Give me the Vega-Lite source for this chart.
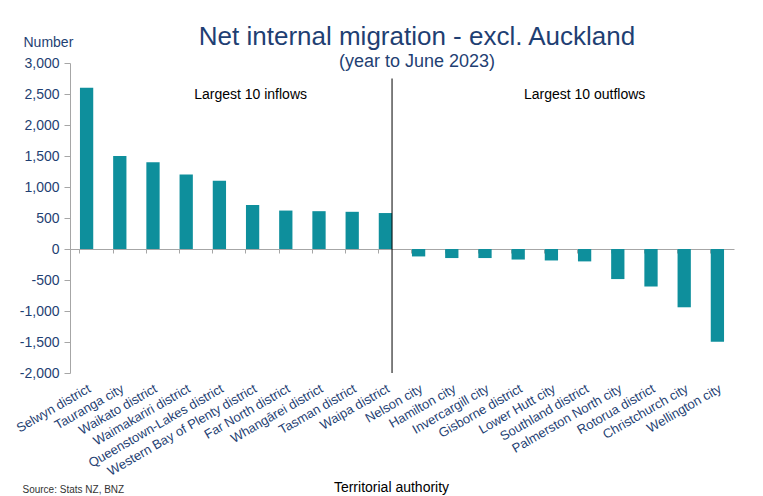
{
  "$schema": "https://vega.github.io/schema/vega-lite/v6.json",
  "width": 664,
  "height": 310,
  "autosize": "none",
  "padding": {"left": 70, "top": 63, "right": 29, "bottom": 123},
  "config": {
    "view": {"stroke": null},
    "font": "Liberation Sans",
    "axisY": {
      "tickCount": 10,
      "labelOverlap": false,
      "labelExpr": "replace(format(datum.value, ','), '\u2212', '-')",
      "labelFont": "Liberation Sans",
      "labelFontSize": 14,
      "labelColor": "#1F3F73",
      "labelPadding": 5,
      "tickSize": 6,
      "domainColor": "#A6A6A6",
      "tickColor": "#A6A6A6",
      "grid": false
    }
  },
  "title": {
    "text": "Net internal migration - excl. Auckland",
    "subtitle": "(year to June 2023)",
    "anchor": "middle",
    "dx": 15,
    "fontSize": 26,
    "fontWeight": "normal",
    "color": "#1F3F73",
    "font": "Liberation Sans",
    "subtitleFont": "Liberation Sans",
    "subtitleFontSize": 18,
    "subtitleColor": "#1F3F73",
    "subtitlePadding": 3,
    "offset": -36
  },
  "data": {
    "values": [
      {"authority": "Selwyn district", "net": 2600},
      {"authority": "Tauranga city", "net": 1500},
      {"authority": "Waikato district", "net": 1400},
      {"authority": "Waimakariri district", "net": 1200},
      {"authority": "Queenstown-Lakes district", "net": 1100},
      {"authority": "Western Bay of Plenty district", "net": 710},
      {"authority": "Far North district", "net": 620},
      {"authority": "Whangārei district", "net": 610},
      {"authority": "Tasman district", "net": 600},
      {"authority": "Waipa district", "net": 580},
      {"authority": "Nelson city", "net": -120},
      {"authority": "Hamilton city", "net": -146},
      {"authority": "Invercargill city", "net": -146},
      {"authority": "Gisborne district", "net": -170},
      {"authority": "Lower Hutt city", "net": -185},
      {"authority": "Southland district", "net": -200},
      {"authority": "Palmerston North city", "net": -485},
      {"authority": "Rotorua district", "net": -605},
      {"authority": "Christchurch city", "net": -940},
      {"authority": "Wellington city", "net": -1495}
    ]
  },
  "layer": [
    {
      "mark": {"type": "bar", "color": "#0E8F9C"},
      "encoding": {
        "x": {
          "field": "authority",
          "type": "nominal",
          "sort": null,
          "scale": {"paddingInner": 0.6, "paddingOuter": 0.3},
          "axis": {
            "orient": "bottom",
            "domain": false,
            "ticks": false,
            "labelAngle": -30,
            "labelAlign": "right",
            "labelBaseline": "top",
            "labelPadding": 9,
            "labelFontSize": 13,
            "labelColor": "#1F3F73",
            "labelFont": "Liberation Sans",
            "labelLimit": 300,
            "labelOverlap": false,
            "title": "Territorial authority",
            "titleFont": "Liberation Sans",
            "titleFontSize": 14,
            "titleFontWeight": "normal",
            "titleColor": "black",
            "titleX": 321,
            "titleY": 118,
            "titleAlign": "center",
            "titleBaseline": "alphabetic"
          }
        },
        "y": {
          "field": "net",
          "type": "quantitative",
          "scale": {"domain": [-2000, 3000], "nice": false},
          "axis": {
            "title": "Number",
            "titleAngle": 0,
            "titleAlign": "left",
            "titleBaseline": "alphabetic",
            "titleX": -47,
            "titleY": -17,
            "titleFont": "Liberation Sans",
            "titleFontSize": 14,
            "titleFontWeight": "normal",
            "titleColor": "#1F3F73"
          }
        }
      }
    },
    {
      "data": {"values": [{}]},
      "mark": {"type": "rule", "color": "black", "strokeWidth": 1},
      "encoding": {
        "x": {
          "datum": "Waipa district",
          "bandPosition": 1,
          "axis": {
            "orient": "bottom",
            "offset": -124,
            "labels": false,
            "bandPosition": 0,
            "grid": false,
            "domainColor": "#A6A6A6",
            "tickColor": "#A6A6A6",
            "tickSize": 4,
            "title": "Source: Stats NZ, BNZ",
            "titleFont": "Liberation Sans",
            "titleFontSize": 10,
            "titleFontWeight": "normal",
            "titleColor": "#333333",
            "titleX": -48,
            "titleY": 243,
            "titleAlign": "left",
            "titleBaseline": "alphabetic"
          }
        },
        "y": {"datum": 2750},
        "y2": {"datum": -2000}
      }
    },
    {
      "data": {"values": [{}]},
      "mark": {"type": "text", "font": "Liberation Sans", "fontSize": 14, "color": "black", "baseline": "alphabetic", "align": "center", "dx": -2},
      "encoding": {
        "x": {"datum": "Western Bay of Plenty district", "axis": null},
        "y": {"datum": 2415},
        "text": {"value": "Largest 10 inflows"}
      }
    },
    {
      "data": {"values": [{}]},
      "mark": {"type": "text", "font": "Liberation Sans", "fontSize": 14, "color": "black", "baseline": "alphabetic", "align": "center", "dx": 0},
      "encoding": {
        "x": {"datum": "Southland district", "axis": null},
        "y": {"datum": 2415},
        "text": {"value": "Largest 10 outflows"}
      }
    }
  ],
  "resolve": {"axis": {"x": "independent"}}
}
